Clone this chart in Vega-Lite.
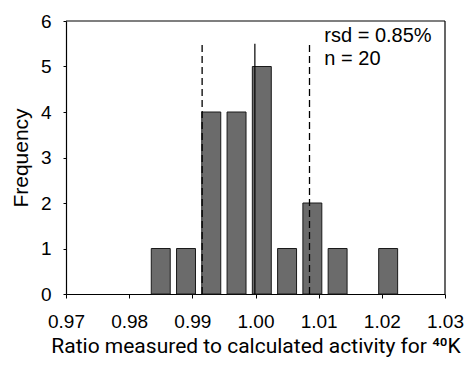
{
  "$schema": "https://vega.github.io/schema/vega-lite/v6.json",
  "autosize": {"type": "none"},
  "padding": {"left": 66, "top": 21, "right": 22, "bottom": 71},
  "width": 379,
  "height": 273,
  "background": "white",
  "config": {
    "font": "Liberation Sans",
    "view": {"stroke": null},
    "axis": {"domainColor": "black", "domainWidth": 1.2, "tickColor": "black", "labelColor": "black", "titleColor": "black", "grid": false, "labelFont": "Liberation Sans", "titleFont": "Liberation Sans", "titleFontWeight": "normal"}
  },
  "layer": [
    {
      "data": {"values": [
        {"start": 0.9835, "end": 0.9865, "count": 1},
        {"start": 0.9875, "end": 0.9905, "count": 1},
        {"start": 0.9915, "end": 0.9945, "count": 4},
        {"start": 0.9955, "end": 0.9985, "count": 4},
        {"start": 0.9995, "end": 1.0025, "count": 5},
        {"start": 1.0035, "end": 1.0065, "count": 1},
        {"start": 1.0075, "end": 1.0105, "count": 2},
        {"start": 1.0115, "end": 1.0145, "count": 1},
        {"start": 1.0195, "end": 1.0225, "count": 1}
      ]},
      "mark": {"type": "bar", "fill": "#6b6b6b", "stroke": "#1a1a1a", "strokeWidth": 1},
      "encoding": {
        "x": {"field": "start", "type": "quantitative",
          "scale": {"domain": [0.97, 1.03], "nice": false, "zero": false},
          "axis": {"values": [0.97, 0.98, 0.99, 1.0, 1.01, 1.02, 1.03], "format": ".2f", "tickSize": 4, "labelPadding": 14, "labelFontSize": 19, "labelFlush": false, "labelOverlap": false,
            "title": "Ratio measured to calculated activity for ⁴⁰K", "titleFont": "Roboto", "titleFontSize": 21, "titlePadding": 4}},
        "x2": {"field": "end"},
        "y": {"field": "count", "type": "quantitative",
          "scale": {"domain": [0, 6], "nice": false},
          "axis": {"values": [0, 1, 2, 3, 4, 5, 6], "tickSize": 3, "labelPadding": 12, "labelFontSize": 19, "labelFlush": false, "labelOverlap": false,
            "title": "Frequency", "titleFontSize": 21, "titlePadding": 9}},
        "y2": {"datum": 0}
      }
    },
    {
      "data": {"values": [
        {"xa": 0.97, "xb": 1.03, "ya": 6, "yb": 6},
        {"xa": 1.03, "xb": 1.03, "ya": 0, "yb": 6}
      ]},
      "mark": {"type": "rule", "color": "black", "strokeWidth": 1.2},
      "encoding": {
        "x": {"field": "xa", "type": "quantitative"},
        "x2": {"field": "xb"},
        "y": {"field": "ya", "type": "quantitative"},
        "y2": {"field": "yb"}
      }
    },
    {
      "data": {"values": [{"pos": 0.99155, "bottom": 0, "top": 5.5}, {"pos": 1.00855, "bottom": 0, "top": 5.5}]},
      "mark": {"type": "rule", "color": "black", "strokeWidth": 1.3, "strokeDash": [7, 4]},
      "encoding": {
        "x": {"field": "pos", "type": "quantitative"},
        "y": {"field": "bottom", "type": "quantitative"},
        "y2": {"field": "top"}
      }
    },
    {
      "data": {"values": [{"pos": 0.9999, "bottom": 0, "top": 5.5}]},
      "mark": {"type": "rule", "color": "black", "strokeWidth": 1.2},
      "encoding": {
        "x": {"field": "pos", "type": "quantitative"},
        "y": {"field": "bottom", "type": "quantitative"},
        "y2": {"field": "top"}
      }
    },
    {
      "data": {"values": [{"label": "rsd = 0.85%", "tx": 1.0109, "ty": 5.54}, {"label": "n = 20", "tx": 1.0109, "ty": 5.03}]},
      "mark": {"type": "text", "align": "left", "baseline": "alphabetic", "fontSize": 20, "font": "Liberation Sans", "color": "black"},
      "encoding": {
        "x": {"field": "tx", "type": "quantitative"},
        "y": {"field": "ty", "type": "quantitative"},
        "text": {"field": "label"}
      }
    }
  ]
}
